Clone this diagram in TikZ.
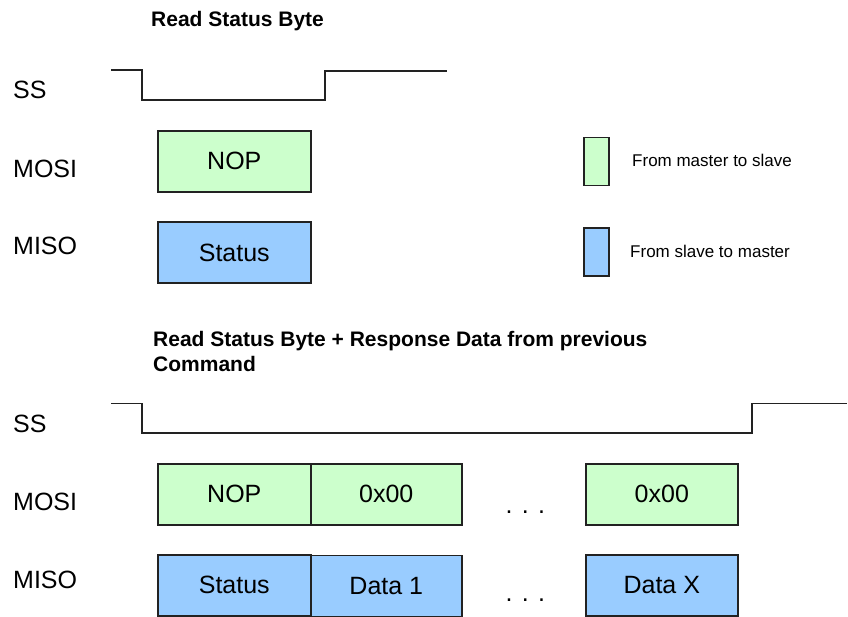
\documentclass[tikz,border=0pt]{standalone}
\usepackage{fontspec}
\setmainfont{Liberation Sans}
\definecolor{mosi}{HTML}{CCFFCC}
\definecolor{miso}{HTML}{99CCFF}
\definecolor{edge}{HTML}{222222}
\begin{document}
\begin{tikzpicture}[x=1pt,y=-1pt,
  lbl/.style={font=\fontsize{25}{30}\selectfont, anchor=base west, inner sep=0},
  ttl/.style={font=\bfseries\fontsize{21}{25}\selectfont, anchor=base west, inner sep=0},
  leg/.style={font=\fontsize{17}{20}\selectfont, anchor=base west, inner sep=0},
  wave/.style={line width=1.6pt, draw=edge},
  byte/.style={draw=edge, line width=1.6pt, font=\fontsize{25}{30}\selectfont, inner sep=0, anchor=north west, minimum width=153, minimum height=61},
  tx/.style={byte, fill=mosi},
  rx/.style={byte, fill=miso},
  legbox/.style={draw=edge, line width=1.5pt, inner sep=0, anchor=north west, minimum width=25, minimum height=48},
]
\useasboundingbox (0,0) rectangle (848,617);

% ---------- section 1 ----------
\node[ttl] (t1) at (151,26.5) {Read Status Byte};
\node[lbl] (ss1) at (13,99) {SS};
\node[lbl] (mosi1) at (13,178) {MOSI};
\node[lbl] (miso1) at (13,255) {MISO};

\draw[wave] (111,70) -- (142,70) -- (142,100) -- (325,100) -- (325,71) -- (447,71);

\node[tx] (nop1) at (157,130) {NOP};
\node[rx] (st1) at (157,221.5) {Status};

% legend
\node[legbox, fill=mosi] (lg) at (583,137) {};
\node[legbox, fill=miso] (lb) at (583,227.5) {};
\node[leg] (lgt) at (632,167) {From master to slave};
\node[leg] (lbt) at (630,258) {From slave to master};

% ---------- section 2 ----------
\node[ttl] (t2a) at (153,346) {Read Status Byte + Response Data from previous};
\node[ttl] (t2b) at (153,371) {Command};
\node[lbl] (ss2) at (13,432) {SS};
\node[lbl] (mosi2) at (13,510) {MOSI};
\node[lbl] (miso2) at (13,588) {MISO};

\draw[wave] (111,403.5) -- (142,403.5) -- (142,433) -- (752,433) -- (752,403.5) -- (847,403.5);

\node[tx] (nop2) at (157,463) {NOP};
\node[tx, minimum width=151] (z1) at (310,463) {0x00};
\node[tx, minimum width=152] (zx) at (585,463) {0x00};
\node[rx] (st2) at (157,554) {Status};
\node[rx, minimum width=151] (d1) at (310,554.5) {Data 1};
\node[rx, minimum width=152] (dx) at (585,554) {Data X};

\node[lbl] (dots1) at (505.5,513.5) {. . .};
\node[lbl] (dots2) at (505.5,601.5) {. . .};
\end{tikzpicture}
\end{document}
